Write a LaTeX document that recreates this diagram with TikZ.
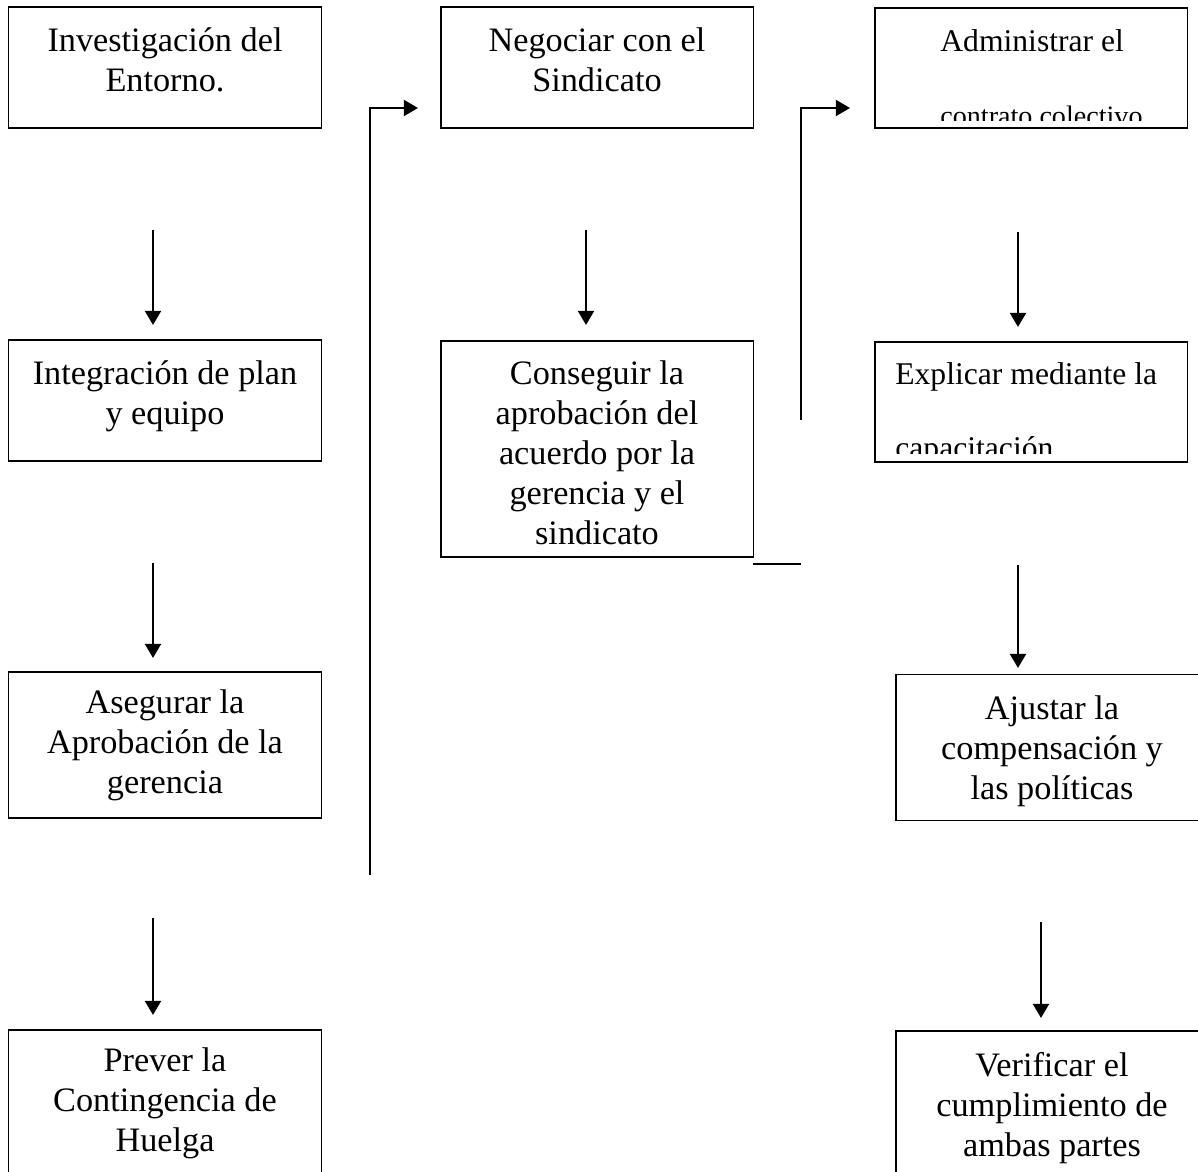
\documentclass[tikz,border=0pt]{standalone}
\usepackage{fontspec}
\setmainfont{Liberation Serif}
\usetikzlibrary{arrows.meta}

\begin{document}
\begin{tikzpicture}[x=0.02cm, y=-0.02cm]
    \tikzstyle{caja} = [draw, line width=1.1pt, rectangle, align=center, inner sep=0pt, minimum width=6.26cm, font=\fontsize{19.5}{22.8}\selectfont]
    \tikzstyle{texto} = [align=left, inner sep=0pt, anchor=north west, font=\fontsize{18}{42}\selectfont]
    \tikzstyle{flecha} = [line width=1.4pt, -{Triangle[length=8pt, width=9pt]}]

    \useasboundingbox (0,0) rectangle (1198,1172);
    \clip (0,0) rectangle (1198,1172);

    % primera columna
    \node[caja, minimum height=2.42cm, text depth=0.32cm] (entorno) at (165,67.5) {Investigación del\\Entorno.};
    \node[caja, minimum height=2.42cm, text depth=0.31cm] (plan) at (165,400.5) {Integración de plan\\y equipo};
    \node[caja, minimum height=2.92cm] (gerencia) at (165,745) {Asegurar la\\Aprobación de la\\gerencia};
    \node[caja, minimum height=2.92cm] (huelga) at (165,1103) {Prever la\\Contingencia de\\Huelga};

    % segunda columna
    \node[caja, minimum height=2.42cm, text depth=0.32cm] (negociar) at (597,67.5) {Negociar con el\\Sindicato};
    \node[caja, minimum height=4.32cm, text height=3.84cm, text depth=0cm] (acuerdo) at (597,449) {Conseguir la\\aprobación del\\acuerdo por la\\gerencia y el\\sindicato};

    % tercera columna
    \node[caja, minimum height=2.4cm] (contrato) at (1031,68) {};
    \node[caja, minimum height=2.4cm] (capacitar) at (1031,402) {};
    \node[caja, minimum height=2.92cm, text depth=0cm] (ajustar) at (1052,747.5) {Ajustar la\\compensación y\\las políticas};
    \node[caja, minimum height=2.92cm, text depth=0cm] (verificar) at (1052,1104) {Verificar el\\cumplimiento de\\ambas partes};

    \begin{scope}
      \clip (876,9) rectangle (1186,121);
      \node[texto] (contratotxt) at (940,29) {Administrar el\\\fontsize{16}{42}\selectfont contrato colectivo};
    \end{scope}
    \begin{scope}
      \clip (876,343) rectangle (1186,454);
      \node[texto] (capacitartxt) at (895,362) {Explicar mediante la\\capacitación};
    \end{scope}

    % extremos de las flechas
    \coordinate (a1) at (153,230);  \coordinate (b1) at (153,325);
    \coordinate (a2) at (153,563);  \coordinate (b2) at (153,658);
    \coordinate (a3) at (153,918);  \coordinate (b3) at (153,1015);
    \coordinate (a4) at (586,230);  \coordinate (b4) at (586,325);
    \coordinate (a5) at (1018,232); \coordinate (b5) at (1018,327);
    \coordinate (a6) at (1018,565); \coordinate (b6) at (1018,668);
    \coordinate (a7) at (1041,922); \coordinate (b7) at (1041,1018);
    \coordinate (a8) at (370,875);  \coordinate (b8) at (418,108);
    \coordinate (a9) at (801,420);  \coordinate (b9) at (850,108);
    \coordinate (c1) at (753,564);  \coordinate (c2) at (801,564);

    \foreach \from/\to in {a1/b1, a2/b2, a3/b3, a4/b4, a5/b5, a6/b6, a7/b7}
    \draw [flecha] (\from) -- (\to);

    \foreach \from/\to in {a8/b8, a9/b9}
    \draw [flecha] (\from) |- (\to);

    \draw [line width=1.4pt] (c1) -- (c2);
\end{tikzpicture}
\end{document}
